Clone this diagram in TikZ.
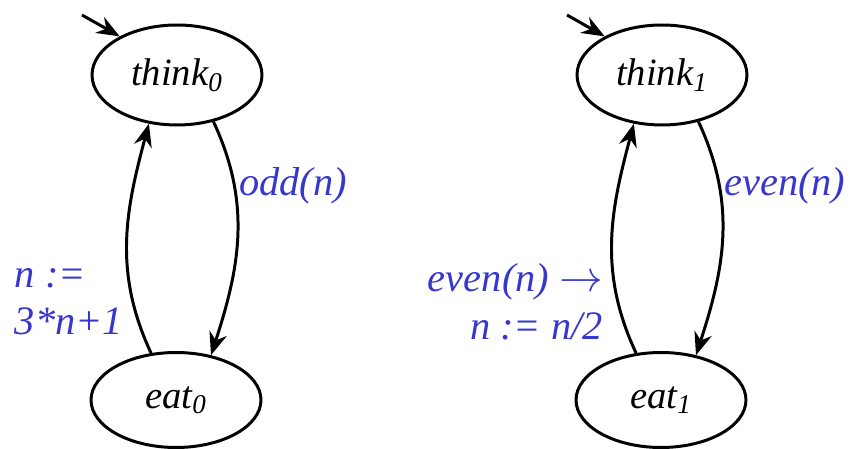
\documentclass[tikz,border=0pt]{standalone}
\usepackage{fontspec}
\newfontfamily\diagfont{Liberation Serif}[ItalicFont={Liberation Serif Italic}]
\usepackage{tikz}
\usetikzlibrary{arrows.meta,shapes.geometric}
\definecolor{guardblue}{RGB}{55,55,205}

\begin{document}
\begin{tikzpicture}[
  x=0.02cm, y=0.02cm,
  state/.style={ellipse, draw=black, line width=1.7pt, minimum width=3.4cm,
                minimum height=2cm, inner sep=0, font=\diagfont\fontsize{22}{26}\selectfont\itshape},
  trans/.style={-{Stealth[length=4.6mm,width=3.6mm]}, line width=1.7pt},
  lbl/.style={font=\diagfont\fontsize{23}{27}\selectfont\itshape, text=guardblue, inner sep=2pt},
]
\useasboundingbox (0,0) rectangle (850,449);
% the two machines: states and initial arrows
\foreach \k/\xo in {0/0, 1/485} {
  \node[state] (think\k) at (\xo+177,374) {think\textsubscript{\k}};
  \node[state, minimum height=1.9cm] (eat\k) at (\xo+176,49) {eat\textsubscript{\k}};
  \coordinate (init\k) at (\xo+82,434);
  \draw[trans] (init\k) -- (think\k.146);
}
% ---- machine 0
\draw[trans] (think0.-52) to[out=-65,in=72]
  node[lbl, right, pos=0.27] {odd(n)} (eat0.52);
\draw[trans] (eat0.118) to[out=115,in=-105]
  node[lbl, left, align=left, pos=0.22, xshift=-1mm] {n :=\\3*n+1} (think0.240);
% ---- machine 1
\draw[trans] (think1.-52) to[out=-65,in=72]
  node[lbl, right, pos=0.27] {even(n)} (eat1.52);
\draw[trans] (eat1.118) to[out=115,in=-105]
  node[lbl, left, align=right, pos=0.22, xshift=-2mm] {even(n) $\rightarrow$\\n := n/2} (think1.240);
\end{tikzpicture}
\end{document}
